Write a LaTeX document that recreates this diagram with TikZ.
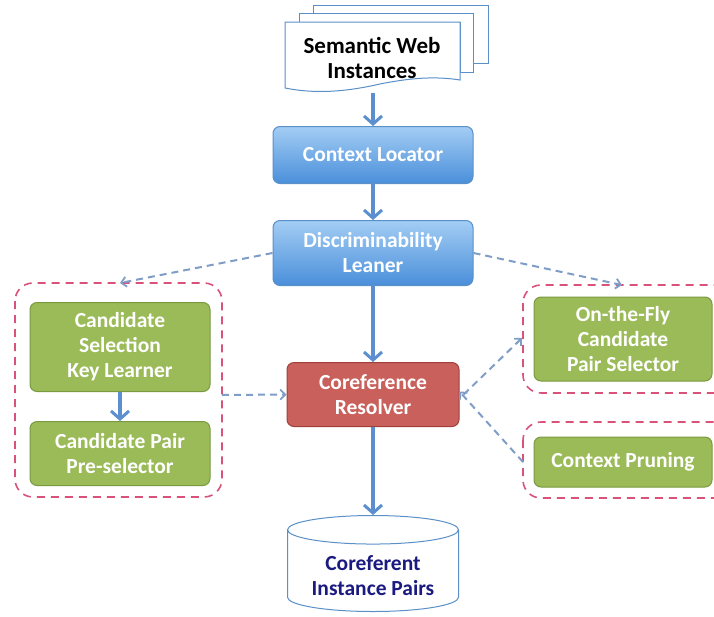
\documentclass[tikz,border=0pt]{standalone}
\usepackage{fontspec}
\setmainfont{Carlito}
\usetikzlibrary{positioning,arrows.meta,shapes.geometric,calc}
\definecolor{flowblue}{HTML}{5B8FD0}
\definecolor{dashblue}{HTML}{7F9DC6}
\definecolor{grpred}{HTML}{D9527A}
\definecolor{boxgreen}{HTML}{9BBB59}
\definecolor{edgegreen}{HTML}{7A9A3F}
\definecolor{boxred}{HTML}{C9605C}
\definecolor{edgered}{HTML}{A0403C}
\definecolor{bluetop}{HTML}{A3CDF4}
\definecolor{bluebot}{HTML}{4A8FDA}
\definecolor{edgeblue}{HTML}{5A8FC8}
\definecolor{navy}{HTML}{1A1A80}

\begin{document}
\begin{tikzpicture}[
    x=1pt, y=-1pt,
    font=\fontsize{21.5}{25}\selectfont\bfseries,
    proc/.style={rounded corners=7pt, text=white, align=center, line width=1pt, inner sep=2pt},
    bluebox/.style={proc, draw=edgeblue, top color=bluetop, bottom color=bluebot},
    greenbox/.style={proc, draw=edgegreen, fill=boxgreen},
    redbox/.style={proc, draw=edgered, fill=boxred},
    sheet/.style={draw=edgeblue, line width=1pt, fill=white},
    grp/.style={draw=grpred, dashed, dash pattern=on 8pt off 6pt, line width=1.6pt, rounded corners=18pt},
    flow/.style={-{Straight Barb[length=8pt, width=18pt, line width=3pt]}, line width=4.5pt, draw=flowblue},
    feed/.style={-{Straight Barb[length=5pt, width=10pt, line width=1.8pt]}, dashed, dash pattern=on 7pt off 5pt, line width=2pt, draw=dashblue}
  ]
  \clip (0,0) rectangle (714,616);

  % input documents
  \draw[sheet] (313,5) -- (488,5) -- (488,63) -- (473,63) -- (473,13) -- (313,13) -- cycle;
  \draw[sheet] (299,13) -- (473,13) -- (473,72) -- (460,72) -- (460,22) -- (299,22) -- cycle;
  \draw[sheet] (285,22) -- (460,22) -- (460,80)
    .. controls (435,76) and (410,78) .. (380,84) .. controls (345,92) and (315,94) .. (285,88) -- cycle;
  \node[align=center, font=\fontsize{23}{25}\selectfont\bfseries, minimum width=175pt, minimum height=70pt] (swi) at (372,58) {Semantic Web\\Instances};

  % main column
  \node[bluebox, minimum width=200pt, minimum height=57pt] (ctx) at (373,155) {Context Locator};
  \node[bluebox, minimum width=200pt, minimum height=65pt, below=36pt of ctx] (disc) {Discriminability\\Leaner};
  \node[redbox, minimum width=172pt, minimum height=64pt, below=76pt of disc] (cor) {Coreference\\Resolver};
  \node[cylinder, shape border rotate=90, aspect=0.28, draw=edgeblue, line width=1pt, fill=white,
        minimum width=171pt, minimum height=96pt, below=88pt of cor] (pairs) {\phantom{Coreferent}};
  \node[text=navy, align=center, yshift=-3pt] (pairstxt) at (pairs.center) {Coreferent\\Instance Pairs};

  % left group
  \node[greenbox, minimum width=180pt, minimum height=89pt] (csk) at (120,347) {Candidate\\Selection\\Key Learner};
  \node[greenbox, minimum width=180pt, minimum height=64pt, below=29pt of csk] (cpp) {Candidate Pair\\Pre-selector};
  \draw[grp] (15,283) rectangle (222,497);
  \coordinate (lgrpN) at (120,283);
  \coordinate (lgrpE) at (222,395);

  % right groups
  \node[greenbox, minimum width=178pt, minimum height=84pt] (otf) at (623,339) {On-the-Fly\\Candidate\\Pair Selector};
  \node[greenbox, minimum width=178pt, minimum height=50pt] (cpr) at (623,462) {Context Pruning};
  \draw[grp] (523,285) rectangle (745,393);
  \draw[grp] (523,422) rectangle (745,498);
  \coordinate (rgrpN) at (622,285);
  \coordinate (rgrpW) at (522,338);
  \coordinate (cprW) at (523,462);

  % connectors
  \draw[flow] (ctx.north |- swi.south) -- (ctx.north);
  \draw[flow] (ctx) -- (disc);
  \draw[flow] (disc) -- (cor);
  \draw[flow] (cor) -- (pairs.north);
  \draw[flow] (csk) -- (cpp);
  \draw[feed] (disc.west) -- (lgrpN);
  \draw[feed] (disc.east) -- (rgrpN);
  \draw[feed] (lgrpE) -- (cor.west);
  \draw[feed, {Straight Barb[length=5pt, width=10pt, line width=1.8pt]}-] (rgrpW) -- ([yshift=-4pt]cor.east);
  \draw[feed] (cprW) -- ([yshift=3pt]cor.east);
\end{tikzpicture}
\end{document}
